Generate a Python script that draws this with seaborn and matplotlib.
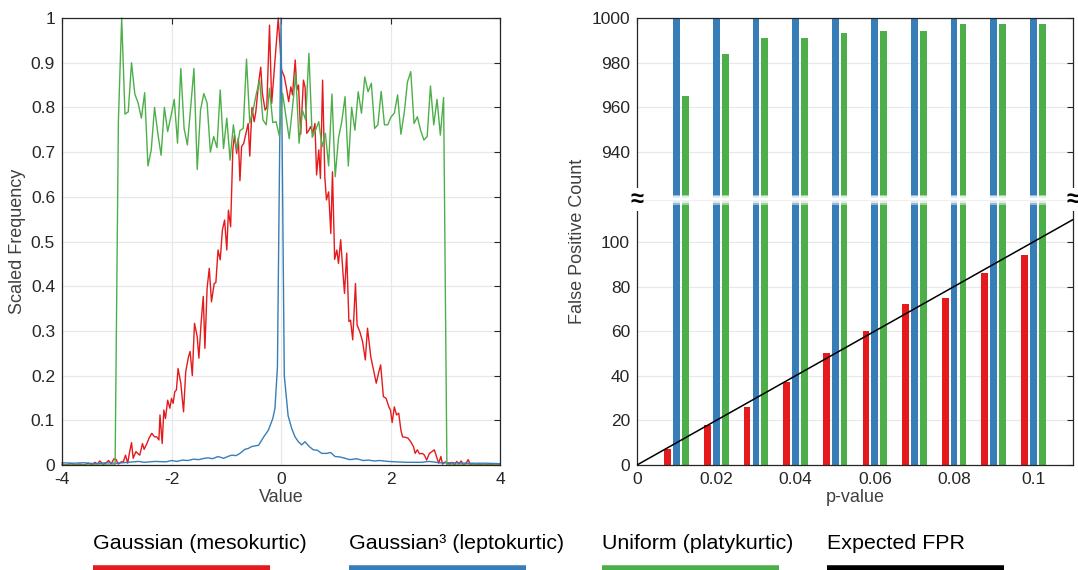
import numpy as np
import pandas as pd
import matplotlib
matplotlib.use("Agg")
import matplotlib.pyplot as plt
from matplotlib.lines import Line2D
from matplotlib.patches import Rectangle
import seaborn as sns

# ---------------- data: left panel (scaled histograms) ----------------
gauss_x = [-4.00, -3.92, -3.84, -3.76, -3.68, -3.60, -3.52, -3.45, -3.40, -3.35, -3.31, -3.25,
           -3.20, -3.15, -3.10, -3.05, -3.01, -2.97, -2.92, -2.88, -2.84, -2.80, -2.77, -2.73,
           -2.70, -2.65, -2.62, -2.58, -2.53, -2.50, -2.45, -2.41, -2.36, -2.31, -2.27, -2.23,
           -2.21, -2.17, -2.14, -2.11, -2.07, -2.03, -2.00, -1.97, -1.94, -1.91, -1.88, -1.83,
           -1.78, -1.74, -1.69, -1.66, -1.62, -1.58, -1.53, -1.50, -1.46, -1.42, -1.39, -1.35,
           -1.31, -1.27, -1.22, -1.19, -1.15, -1.11, -1.07, -1.03, -0.99, -0.96, -0.92, -0.88,
           -0.85, -0.81, -0.78, -0.75, -0.72, -0.68, -0.64, -0.60, -0.57, -0.53, -0.49, -0.46,
           -0.41, -0.37, -0.34, -0.29, -0.26, -0.21, -0.17, -0.13, -0.08, -0.05, -0.02, 0.01,
           0.06, 0.10, 0.14, 0.18, 0.21, 0.26, 0.29, 0.32, 0.36, 0.41, 0.44, 0.47,
           0.51, 0.54, 0.58, 0.62, 0.65, 0.69, 0.72, 0.76, 0.80, 0.83, 0.87, 0.91,
           0.94, 0.98, 1.02, 1.05, 1.09, 1.13, 1.16, 1.20, 1.24, 1.27, 1.31, 1.36,
           1.39, 1.44, 1.49, 1.54, 1.58, 1.64, 1.69, 1.74, 1.78, 1.82, 1.87, 1.92,
           1.97, 2.00, 2.03, 2.07, 2.11, 2.15, 2.19, 2.22, 2.27, 2.32, 2.37, 2.42,
           2.45, 2.49, 2.53, 2.58, 2.62, 2.66, 2.71, 2.76, 2.80, 2.84, 2.88, 2.92,
           2.95, 3.00, 3.04, 3.08, 3.12, 3.17, 3.21, 3.25, 3.29, 3.33, 3.38, 3.42,
           3.46, 3.50, 3.55, 3.60, 3.70, 3.80, 3.90, 4.00]
gauss_y = [0.002, 0.000, 0.003, 0.000, 0.002, 0.000, 0.004, 0.000, 0.006, 0.002, 0.009, 0.001,
           0.004, 0.010, 0.003, 0.014, 0.012, 0.002, 0.007, 0.007, 0.022, 0.004, 0.026, 0.050,
           0.015, 0.030, 0.026, 0.022, 0.048, 0.035, 0.048, 0.060, 0.071, 0.063, 0.063, 0.056,
           0.112, 0.048, 0.123, 0.104, 0.145, 0.127, 0.149, 0.138, 0.164, 0.168, 0.216, 0.183,
           0.119, 0.209, 0.242, 0.254, 0.200, 0.317, 0.287, 0.239, 0.317, 0.377, 0.261, 0.395,
           0.440, 0.365, 0.406, 0.408, 0.481, 0.459, 0.526, 0.548, 0.481, 0.570, 0.533, 0.705,
           0.738, 0.697, 0.731, 0.636, 0.712, 0.720, 0.742, 0.764, 0.691, 0.800, 0.768, 0.790,
           0.854, 0.890, 0.831, 0.794, 0.800, 0.984, 0.809, 0.872, 0.951, 1.000, 0.943, 0.884,
           0.869, 0.843, 0.813, 0.846, 0.828, 0.906, 0.839, 0.850, 0.740, 0.861, 0.845, 0.742,
           0.749, 0.757, 0.742, 0.764, 0.649, 0.705, 0.641, 0.861, 0.645, 0.593, 0.611, 0.518,
           0.656, 0.460, 0.481, 0.451, 0.504, 0.433, 0.384, 0.474, 0.321, 0.324, 0.280, 0.406,
           0.313, 0.298, 0.276, 0.235, 0.306, 0.242, 0.213, 0.183, 0.205, 0.224, 0.153, 0.149,
           0.130, 0.123, 0.095, 0.130, 0.112, 0.116, 0.078, 0.063, 0.062, 0.060, 0.052, 0.041,
           0.026, 0.034, 0.025, 0.026, 0.022, 0.011, 0.026, 0.030, 0.034, 0.019, 0.004, 0.019,
           0.002, 0.007, 0.004, 0.002, 0.006, 0.000, 0.008, 0.002, 0.009, 0.000, 0.004, 0.012,
           0.000, 0.003, 0.000, 0.002, 0.000, 0.002, 0.000, 0.001]

gauss3_x = [-4.0, -3.8, -3.6, -3.4, -3.2, -3.0, -2.8, -2.6, -2.5, -2.3, -2.1, -2.0,
            -1.9, -1.8, -1.7, -1.6, -1.5, -1.4, -1.33, -1.25, -1.15, -1.05, -0.95, -0.9,
            -0.82, -0.75, -0.66, -0.6, -0.54, -0.47, -0.41, -0.32, -0.23, -0.15, -0.11, -0.065,
            0.0, 0.06, 0.13, 0.195, 0.256, 0.317, 0.378, 0.438, 0.518, 0.59, 0.664, 0.743,
            0.834, 0.907, 0.987, 1.078, 1.169, 1.26, 1.38, 1.5, 1.6, 1.7, 1.8, 1.96,
            2.1, 2.3, 2.57, 2.7, 2.9, 3.18, 3.4, 3.73, 4.0]
gauss3_y = [0.005, 0.004, 0.005, 0.003, 0.005, 0.004, 0.006, 0.008, 0.006, 0.008, 0.007, 0.010,
            0.008, 0.011, 0.010, 0.013, 0.012, 0.015, 0.016, 0.014, 0.019, 0.015, 0.020, 0.022,
            0.021, 0.026, 0.035, 0.037, 0.041, 0.043, 0.044, 0.062, 0.078, 0.104, 0.127, 0.220,
            1.000, 0.200, 0.110, 0.082, 0.063, 0.052, 0.045, 0.052, 0.041, 0.034, 0.033, 0.026,
            0.026, 0.028, 0.019, 0.018, 0.015, 0.012, 0.014, 0.010, 0.011, 0.009, 0.010, 0.008,
            0.007, 0.006, 0.006, 0.008, 0.005, 0.005, 0.004, 0.004, 0.003]

uniform_bins = [0.77, 1.00, 0.785, 0.79, 0.90, 0.83, 0.81, 0.776, 0.833, 0.669,
                0.705, 0.80, 0.742, 0.693, 0.80, 0.746, 0.78, 0.818, 0.72, 0.887,
                0.753, 0.716, 0.80, 0.887, 0.661, 0.794, 0.831, 0.81, 0.70, 0.735,
                0.71, 0.839, 0.708, 0.776, 0.682, 0.761, 0.705, 0.748, 0.753, 0.908,
                0.765, 0.794, 0.831, 0.861, 0.772, 0.761, 0.843, 0.766, 0.768, 0.736,
                0.831, 0.78, 0.73, 0.80, 0.876, 0.72, 0.794, 0.772, 0.921, 0.733,
                0.749, 0.768, 0.712, 0.742, 0.669, 0.83, 0.645, 0.731, 0.768, 0.824,
                0.669, 0.80, 0.749, 0.835, 0.787, 0.868, 0.835, 0.854, 0.753, 0.761,
                0.836, 0.761, 0.761, 0.779, 0.787, 0.828, 0.74, 0.787, 0.857, 0.88,
                0.764, 0.779, 0.749, 0.727, 0.735, 0.848, 0.761, 0.818, 0.738, 0.822]
uniform_centers = list(np.round(np.linspace(-2.97, 2.97, len(uniform_bins)), 3))
uniform_x = [-4.0, -3.03] + uniform_centers + [3.03, 4.0]
uniform_y = [0.0, 0.0] + uniform_bins + [0.0, 0.0]

# ---------------- data: right panel (false positive counts) ----------------
p_values = [0.01, 0.02, 0.03, 0.04, 0.05, 0.06, 0.07, 0.08, 0.09, 0.10]
gauss_fp = [7, 18, 26, 37, 50, 60, 72, 75, 86, 94]
gauss3_fp = [1000, 1000, 1000, 1000, 1000, 1000, 1000, 1000, 1000, 1000]
uniform_fp = [965, 984, 991, 991, 993, 994, 994, 997, 997, 997]
fpr_p = [0.0, 0.11]
fpr_count = [0.0, 110.0]

series_names = ["Gaussian (mesokurtic)", "Gaussian\u00b3 (leptokurtic)",
                "Uniform (platykurtic)", "Expected FPR"]
colors = ["#E41A1C", "#377EB8", "#4DAF4A", "#000000"]

left_xticks = [-4, -2, 0, 2, 4]
left_yticks = [0, 0.1, 0.2, 0.3, 0.4, 0.5, 0.6, 0.7, 0.8, 0.9, 1]
right_xticks = [0, 0.02, 0.04, 0.06, 0.08, 0.1]
low_yticks = [0, 20, 40, 60, 80, 100]
high_yticks = [940, 960, 980, 1000]

# ---------------- style ----------------
sns.set_theme(style="white")
plt.rcParams["font.family"] = ["Liberation Sans", "DejaVu Sans"]
TXT = "#262626"
LAB = "#404040"
GRID = "#e8e8e8"
TICKFS = 12.5
LABFS = 13
plt.rcParams.update({
    "axes.edgecolor": TXT,
    "axes.linewidth": 0.9,
    "xtick.color": TXT,
    "ytick.color": TXT,
    "xtick.labelsize": TICKFS,
    "ytick.labelsize": TICKFS,
})

W, H = 1078, 570
fig = plt.figure(figsize=(W / 100, H / 100), dpi=100)

def fx(px):
    return px / W

def fy(py):
    return 1 - py / H

def fmt(v):
    return f"{v:g}"

def style_ticks(ax):
    ax.tick_params(direction="in", length=4.5, width=0.8, pad=5, colors=TXT)

# ---------------- left panel ----------------
axL = fig.add_axes([fx(62), fy(465), fx(500) - fx(62), fy(18) - fy(465)])
axL.set_axisbelow(True)
axL.grid(True, color=GRID, lw=0.9)
for xs, ys, c in [(gauss_x, gauss_y, colors[0]), (gauss3_x, gauss3_y, colors[1]),
                  (uniform_x, uniform_y, colors[2])]:
    sns.lineplot(x=xs, y=ys, color=c, lw=1.0, estimator=None, ax=axL, clip_on=False)
axL.set_xlim(-4, 4)
axL.set_ylim(0, 1)
axL.set_xticks(left_xticks)
axL.set_xticklabels([fmt(v) for v in left_xticks])
axL.set_yticks(left_yticks)
axL.set_yticklabels([fmt(v) for v in left_yticks])
axL.tick_params(top=True, right=True)
style_ticks(axL)
axL.set_xlabel("")
axL.set_ylabel("")
for s in axL.spines.values():
    s.set_visible(True)

fig.text(fx(18), fy(241.5), "Scaled Frequency", rotation=90, ha="center", va="center",
         fontsize=LABFS, color=LAB)
fig.text(fx(281), fy(497), "Value", ha="center", va="center", fontsize=LABFS, color=LAB)

# ---------------- right panel (broken axis) ----------------
brk = 199.5
axT = fig.add_axes([fx(637), fy(brk), fx(1073) - fx(637), fy(17.7) - fy(brk)])
axB = fig.add_axes([fx(637), fy(465), fx(1073) - fx(637), fy(brk) - fy(465)])

bar_df = pd.DataFrame({
    "p": p_values * 3,
    "count": gauss_fp + gauss3_fp + uniform_fp,
    "dist": [series_names[0]] * len(p_values) + [series_names[1]] * len(p_values)
            + [series_names[2]] * len(p_values),
})

for ax in (axT, axB):
    ax.set_axisbelow(True)
    ax.grid(True, axis="y", color=GRID, lw=0.9)
    sns.barplot(data=bar_df, x="p", y="count", hue="dist", hue_order=series_names[:3],
                palette=colors[:3], native_scale=True, width=0.675, gap=0.25,
                errorbar=None, legend=False, saturation=1, linewidth=0, ax=ax)
    ax.set_xlim(0, 0.11)
    ax.set_xlabel("")
    ax.set_ylabel("")
    ax.set_xticks(right_xticks)
    for s in ax.spines.values():
        s.set_visible(True)
    style_ticks(ax)

sns.lineplot(x=fpr_p, y=fpr_count, color=colors[3], lw=1.1, ax=axB, zorder=5)

axB.set_ylim(0, 119)
axB.set_yticks(low_yticks)
axB.set_yticklabels([fmt(v) for v in low_yticks])
axB.set_xticklabels([fmt(v) for v in right_xticks])
axB.spines["top"].set_visible(False)
axB.tick_params(right=True, top=False)

axT.set_ylim(919, 1000)
axT.set_yticks(high_yticks)
axT.set_yticklabels([fmt(v) for v in high_yticks])
axT.spines["bottom"].set_visible(False)
axT.tick_params(right=True, top=True, bottom=False, labelbottom=False)

# break band across the bars
x0, x1 = fx(637), fx(1073)
for hpx, a in [(10, 0.45), (6, 0.7), (2.5, 1.0)]:
    fig.add_artist(Rectangle((x0, fy(brk + hpx / 2)), x1 - x0, hpx / H, transform=fig.transFigure,
                             facecolor="white", edgecolor="none", alpha=a, zorder=10))
fig.add_artist(Line2D([x0, x1], [fy(brk), fy(brk)], transform=fig.transFigure,
                      color="#ececec", lw=0.6, zorder=11))
for xb in (637, 1073):
    fig.text(fx(xb), fy(brk), "\u2248", ha="center", va="center", fontsize=17,
             fontweight="bold", color="black", zorder=12,
             bbox=dict(facecolor="white", edgecolor="none", pad=0.2))

fig.text(fx(578), fy(241.5), "False Positive Count", rotation=90, ha="center", va="center",
         fontsize=LABFS, color=LAB)
fig.text(fx(855), fy(497), "p-value", ha="center", va="center", fontsize=LABFS, color=LAB)

# ---------------- legend (text above colored bar) ----------------
leg_x = [93, 349, 602, 827]
for name, c, xl in zip(series_names, colors, leg_x):
    fig.text(fx(xl), fy(549), name, ha="left", va="baseline", fontsize=15.4, color="black")
    fig.add_artist(Line2D([fx(xl), fx(xl + 177)], [fy(567.5), fy(567.5)],
                          transform=fig.transFigure, color=c, lw=4, solid_capstyle="butt"))

fig.savefig("out.png", dpi=100)
